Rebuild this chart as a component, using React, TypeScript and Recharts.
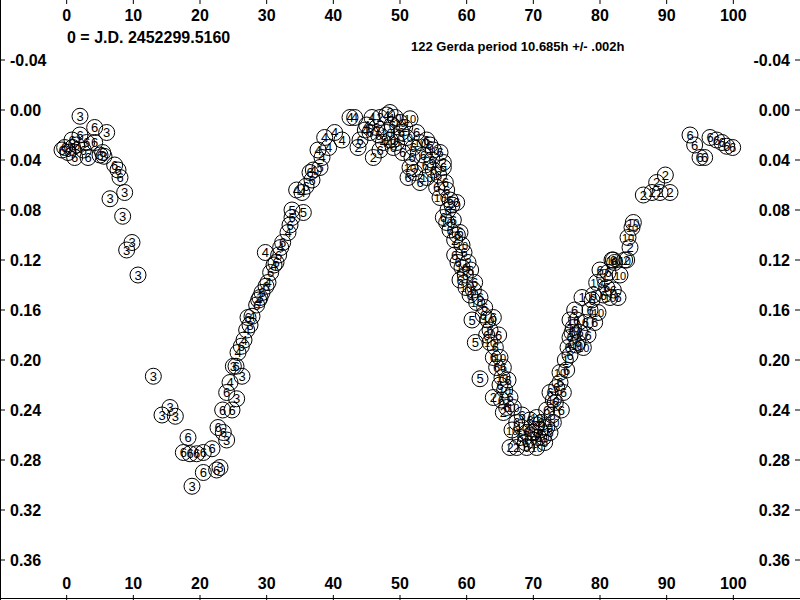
import React from 'react';
import { ScatterChart, Scatter, XAxis, YAxis } from 'recharts';

// phase (0-100) vs relative magnitude, one array per observing session
const session1 = [
  [74.8, 0.200], [75.5, 0.168], [77.3, 0.150], [80.7, 0.134],
];
const session2 = [
  [47.0, 0.006], [48.5, 0.002], [43.7, 0.030], [46.0, 0.038], [50.7, 0.014], [56.5, 0.042],
  [52.2, 0.050], [57.8, 0.076], [58.2, 0.104], [60.2, 0.122], [64.0, 0.230], [65.5, 0.242],
  [66.5, 0.270], [67.5, 0.270], [70.5, 0.252], [84.0, 0.120], [84.5, 0.110],
  [89.8, 0.052], [88.5, 0.058], [87.8, 0.066], [86.5, 0.068], [89.0, 0.066], [90.5, 0.066],
];
const session3 = [
  [2.0, 0.005], [6.0, 0.018], [5.6, 0.037], [6.5, 0.071], [8.7, 0.066], [8.4, 0.085],
  [9.8, 0.106], [9.0, 0.112], [10.7, 0.132], [13.0, 0.213], [15.5, 0.238], [14.3, 0.244],
  [16.3, 0.245], [18.8, 0.301], [23.0, 0.286], [26.3, 0.213], [25.5, 0.231], [24.0, 0.264],
  [25.0, 0.205], [27.5, 0.172], [29.0, 0.150],
];
const session4 = [
  [24.5, 0.218], [29.8, 0.114], [34.5, 0.064], [37.7, 0.032], [38.7, 0.022], [40.2, 0.018],
  [41.3, 0.024], [42.5, 0.006], [43.2, 0.006], [45.8, 0.006], [48.0, 0.004], [45.0, 0.012],
  [44.8, 0.016], [47.5, 0.026], [37.0, 0.048], [25.7, 0.194], [26.6, 0.184], [27.8, 0.165],
  [28.8, 0.152], [30.2, 0.138], [31.1, 0.124], [32.1, 0.110], [33.2, 0.098], [35.3, 0.066],
  [38.3, 0.038], [39.3, 0.030], [27.0, 0.176],
];
const session5 = [
  [33.8, 0.080], [35.5, 0.082], [38.0, 0.046], [60.8, 0.168], [61.3, 0.186], [62.0, 0.215],
];
const session6 = [
  [4.2, 0.014], [0.8, 0.024], [2.0, 0.020], [-0.3, 0.030], [0.9, 0.030], [3.0, 0.026],
  [4.2, 0.026], [1.2, 0.038], [3.2, 0.038], [5.0, 0.036], [5.4, 0.034], [7.2, 0.044],
  [7.7, 0.048], [8.0, 0.054], [0.2, 0.034], [-0.7, 0.032], [1.5, 0.028], [2.5, 0.032],
  [18.2, 0.262], [17.5, 0.274], [18.5, 0.275], [19.5, 0.275], [20.5, 0.274], [21.8, 0.271],
  [20.5, 0.290], [22.5, 0.288], [22.7, 0.254], [23.5, 0.258], [24.0, 0.226], [23.4, 0.240],
  [24.8, 0.240], [25.4, 0.205], [26.2, 0.189], [27.2, 0.166], [28.5, 0.156], [29.3, 0.146],
  [29.9, 0.141], [30.6, 0.130], [31.4, 0.122], [31.8, 0.116], [32.4, 0.106], [33.5, 0.092],
  [33.8, 0.086], [35.9, 0.061], [36.8, 0.056], [36.5, 0.050],
  [46.5, 0.014], [44.0, 0.024], [47.0, 0.032], [49.5, 0.026], [50.4, 0.034], [52.5, 0.018],
  [54.0, 0.024], [54.5, 0.028], [56.0, 0.034], [56.5, 0.046], [51.2, 0.054], [53.0, 0.058],
  [55.0, 0.048], [55.5, 0.062], [57.0, 0.064], [57.5, 0.072], [58.5, 0.074], [45.5, 0.018],
  [56.5, 0.086], [57.5, 0.096], [59.0, 0.098], [58.2, 0.116], [58.7, 0.122], [59.8, 0.132],
  [59.0, 0.136], [60.5, 0.148], [61.2, 0.138], [62.7, 0.158], [64.0, 0.166], [63.5, 0.176],
  [64.3, 0.190], [64.0, 0.198], [64.5, 0.206], [66.5, 0.230], [66.0, 0.238], [65.0, 0.220],
  [67.5, 0.250], [69.0, 0.258], [71.0, 0.256], [69.0, 0.270], [71.7, 0.266], [72.5, 0.258],
  [69.5, 0.248], [68.3, 0.244], [72.0, 0.240], [72.5, 0.226], [73.5, 0.222], [75.0, 0.208],
  [74.0, 0.218], [76.5, 0.168], [75.8, 0.178], [75.5, 0.182], [76.7, 0.186], [77.0, 0.178],
  [78.2, 0.180], [78.5, 0.160], [79.0, 0.148], [81.0, 0.142], [82.0, 0.144], [82.7, 0.150],
  [82.0, 0.120], [82.2, 0.122], [80.0, 0.128], [73.3, 0.234],
  [46.8, 0.020], [48.8, 0.012], [50.2, 0.018], [52.0, 0.030], [53.5, 0.036], [49.0, 0.030],
  [51.8, 0.038], [54.8, 0.040], [53.8, 0.044], [55.8, 0.052], [56.8, 0.058],
  [57.2, 0.080], [58.0, 0.088], [58.6, 0.100], [59.6, 0.114], [60.6, 0.128], [61.0, 0.144],
  [62.0, 0.150], [62.5, 0.164], [63.0, 0.180], [64.8, 0.180], [65.5, 0.206], [66.2, 0.216],
  [65.2, 0.232], [68.0, 0.262], [70.0, 0.264], [71.2, 0.250], [72.8, 0.244], [68.8, 0.266],
  [70.8, 0.262], [74.5, 0.226], [75.5, 0.196], [74.2, 0.240], [76.2, 0.160], [77.8, 0.170],
  [78.8, 0.152], [80.5, 0.148], [81.2, 0.130], [79.2, 0.170], [75.2, 0.190],
  [93.5, 0.020], [94.2, 0.028], [95.0, 0.038], [95.7, 0.038], [96.5, 0.022], [97.5, 0.024],
  [98.3, 0.026], [99.0, 0.029], [99.9, 0.030],
];
const session10 = [
  [51.5, 0.007], [50.0, 0.010], [48.5, 0.024], [51.0, 0.022], [53.0, 0.026], [55.0, 0.032],
  [48.0, 0.018], [49.3, 0.006], [51.5, 0.046], [54.0, 0.054], [56.0, 0.070],
  [57.0, 0.090], [59.3, 0.108], [59.3, 0.126], [59.9, 0.142], [61.5, 0.154], [63.2, 0.168],
  [63.5, 0.186], [65.0, 0.198], [65.3, 0.214], [65.7, 0.224], [67.0, 0.238], [68.3, 0.254],
  [70.0, 0.258], [72.0, 0.254], [66.8, 0.256], [70.5, 0.270], [73.0, 0.250], [71.5, 0.262],
  [73.0, 0.232], [74.0, 0.210], [76.0, 0.174], [76.5, 0.188], [77.5, 0.190], [79.7, 0.162],
  [79.5, 0.138], [81.5, 0.150], [83.0, 0.132], [83.7, 0.120], [81.8, 0.120], [84.2, 0.102],
  [84.8, 0.094], [85.0, 0.090], [70.5, 0.246],
];

const sessions = [
  { id: 1, pts: session1 },
  { id: 2, pts: session2 },
  { id: 3, pts: session3 },
  { id: 4, pts: session4 },
  { id: 5, pts: session5 },
  { id: 6, pts: session6 },
  { id: 10, pts: session10 },
];

const xTicks = [0, 10, 20, 30, 40, 50, 60, 70, 80, 90, 100];
const yTicks = [-0.04, 0, 0.04, 0.08, 0.12, 0.16, 0.2, 0.24, 0.28, 0.32, 0.36];

const font = '"Liberation Sans", Arial, sans-serif';

const marker = (label: number) => (props: any) => {
  const { cx, cy } = props;
  if (cx == null || cy == null) return <g />;
  return (
    <g>
      <circle cx={cx} cy={cy} r={8} fill="none" stroke="#000" strokeWidth={1} />
      <text x={cx} y={cy + 4.5} textAnchor="middle" fontSize={label > 9 ? 11 : 13} fontFamily={font} fill="#000">
        {label}
      </text>
    </g>
  );
};

const TopTick = (props: any) => {
  const { x, payload } = props;
  return (
    <g>
      <line x1={x} x2={x} y1={0} y2={4} stroke="#000" />
      <text x={x} y={21} textAnchor="middle" fontSize={16} fontWeight="bold" fontFamily={font} fill="#000">
        {payload.value}
      </text>
    </g>
  );
};

const BottomTick = (props: any) => {
  const { x, payload } = props;
  return (
    <g>
      <line x1={x} x2={x} y1={595} y2={600} stroke="#000" />
      <text x={x} y={589} textAnchor="middle" fontSize={16} fontWeight="bold" fontFamily={font} fill="#000">
        {payload.value}
      </text>
    </g>
  );
};

const LeftTick = (props: any) => {
  const { y, payload } = props;
  return (
    <g>
      <line x1={0} x2={5} y1={y} y2={y} stroke="#000" />
      <text x={10} y={y + 6} textAnchor="start" fontSize={16} fontWeight="bold" fontFamily={font} fill="#000">
        {Number(payload.value).toFixed(2)}
      </text>
    </g>
  );
};

const RightTick = (props: any) => {
  const { y, payload } = props;
  return (
    <g>
      <line x1={795} x2={800} y1={y} y2={y} stroke="#000" />
      <text x={790} y={y + 6} textAnchor="end" fontSize={16} fontWeight="bold" fontFamily={font} fill="#000">
        {Number(payload.value).toFixed(2)}
      </text>
    </g>
  );
};

export default function App() {
  return (
    <div style={{ position: 'absolute', left: 0, top: 0, width: 800, height: 600, background: '#fff', fontFamily: font }}>
      <ScatterChart width={800} height={600} margin={{ top: 0, right: 0, bottom: 0, left: 0 }}>
        <XAxis xAxisId="b" type="number" dataKey="x" domain={[-10, 110]} ticks={xTicks} orientation="bottom"
          mirror height={20} interval={0} axisLine={false} tickLine={false} tick={<BottomTick />} allowDataOverflow />
        <XAxis xAxisId="t" type="number" dataKey="x" domain={[-10, 110]} ticks={xTicks} orientation="top"
          mirror height={20} interval={0} axisLine={false} tickLine={false} tick={<TopTick />} allowDataOverflow />
        <YAxis yAxisId="l" type="number" dataKey="y" domain={[-0.088, 0.392]} ticks={yTicks} reversed
          orientation="left" mirror width={40} interval={0} axisLine={false} tickLine={false} tick={<LeftTick />} allowDataOverflow />
        <YAxis yAxisId="r" type="number" dataKey="y" domain={[-0.088, 0.392]} ticks={yTicks} reversed
          orientation="right" mirror width={40} interval={0} axisLine={false} tickLine={false} tick={<RightTick />} allowDataOverflow />
        {sessions.map((s) => (
          <Scatter
            key={s.id}
            xAxisId="b"
            yAxisId="l"
            data={s.pts.map(([x, y]) => ({ x, y }))}
            shape={marker(s.id)}
            isAnimationActive={false}
          />
        ))}
      </ScatterChart>
      <svg width={800} height={600} style={{ position: 'absolute', left: 0, top: 0, pointerEvents: 'none' }}>
        <line x1={0.5} x2={0.5} y1={0} y2={600} stroke="#000" />
        <line x1={0} x2={800} y1={598.5} y2={598.5} stroke="#000" />
        <text x={67} y={43} fontSize={16} fontWeight="bold" fontFamily={font} fill="#000">0 = J.D. 2452299.5160</text>
        <text x={411} y={51} fontSize={13} fontWeight="bold" fontFamily={font} fill="#000">122 Gerda period 10.685h +/- .002h</text>
      </svg>
    </div>
  );
}
